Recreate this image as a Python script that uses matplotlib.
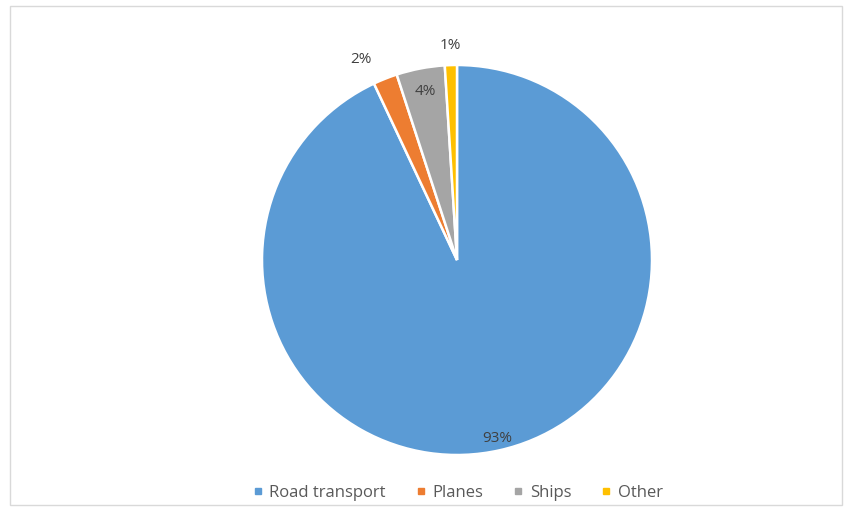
import matplotlib
matplotlib.use("Agg")
import matplotlib.pyplot as plt
import numpy as np
from matplotlib.patches import Rectangle

categories = ["Road transport", "Planes", "Ships", "Other"]
values = [93, 2, 4, 1]
colors = ["#5B9BD5", "#ED7D31", "#A5A5A5", "#FFC000"]
label_dist = [0.94, 1.14, 0.88, 1.1]
label_dang = [0, 4, 0, 0]

plt.rcParams['font.family'] = ['Open Sans', 'DejaVu Sans']

fig = plt.figure(figsize=(8.45, 5.12), dpi=100)
W, H = 845, 512
cx, cy, r = 457, 260, 195
ax = fig.add_axes([(cx - r) / W, (H - cy - r) / H, 2 * r / W, 2 * r / H])
wedges, _ = ax.pie(values, colors=colors, startangle=90, counterclock=False,
                   radius=1.0, wedgeprops=dict(edgecolor="white", linewidth=1.8))
ax.set_xlim(-1, 1)
ax.set_ylim(-1, 1)
ax.set_aspect("equal")
ax.axis("off")

for w, v, d, da in zip(wedges, values, label_dist, label_dang):
    ang = np.deg2rad((w.theta1 + w.theta2) / 2 + da)
    ax.text(d * np.cos(ang), d * np.sin(ang), f"{v}%", ha="center", va="center",
            fontsize=11, color="#404040")

# chart border
fig.patches.append(Rectangle((10 / W, 7 / H), 832 / W, 499 / H, transform=fig.transFigure,
                             fill=False, edgecolor="#D9D9D9", linewidth=1.0))

handles = [plt.Line2D([], [], marker="s", linestyle="none", markersize=5,
                      markerfacecolor=c, markeredgecolor=c) for c in colors]
fig.legend(handles, categories, loc="center", bbox_to_anchor=(457 / W, 1 - 493 / H),
           ncol=4, frameon=False, fontsize=12, labelcolor="#595959",
           handlelength=0.8, handletextpad=0.3, columnspacing=1.7)

fig.savefig("out.png", dpi=100, facecolor="white")
